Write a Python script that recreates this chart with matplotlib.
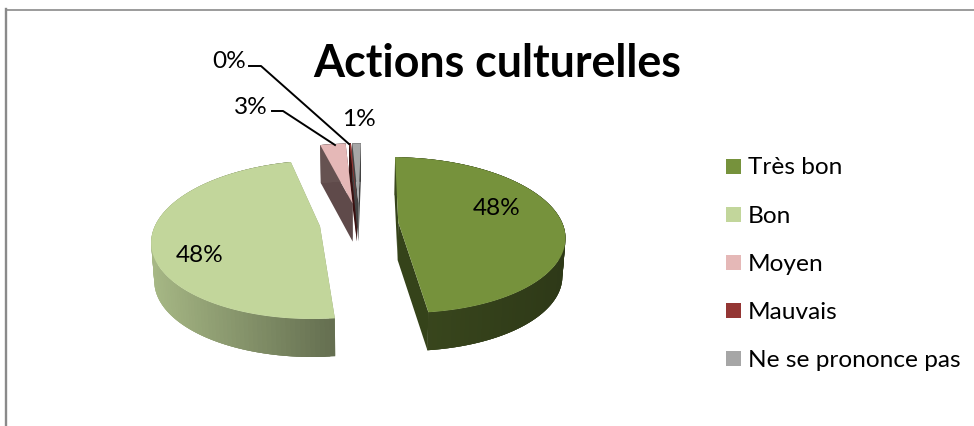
import numpy as np
import matplotlib
matplotlib.use("Agg")
import matplotlib.pyplot as plt
from matplotlib.colors import to_rgb
from matplotlib.patches import Rectangle

plt.rcParams["font.family"] = ["Lato", "DejaVu Sans"]

title = "Actions culturelles"
categories = ["Très bon", "Bon", "Moyen", "Mauvais", "Ne se prononce pas"]
values = [47.9, 47.9, 3.0, 0.2, 1.0]
colors = ["#76923C", "#C2D69B", "#E5B8B7", "#943634", "#A6A6A6"]

# how far each slice is pulled out, in pie radius units
explode = [0.24, 0.24, 0.27, 0.27, 0.27]
side_shade = [(0.50, 0.39), (0.86, 0.52), (0.45, 0.45), (0.35, 0.35), (0.40, 0.40)]
cut_colors = ["#35431A", "#8B9A70", "#5F4A4A", "#3A1010", "#444444"]

start_angle = 1.0
cx, cy = 359, 224
rx, ry = 164, 76
persp = 0.167
depth = 38
shrink = 0.985


def project(X, Y, lower=False):
    X, Y = np.asarray(X, float), np.asarray(Y, float)
    s = 1 / (1 + persp * Y)
    x = cx + rx * X * s
    y = cy - ry * Y * s
    if lower:
        x = cx + (x - cx) * shrink
        y = y + depth
    return x, y


def draw_slice(ax, a0, a1, color, pull, shade, cut):
    mid = np.radians((a0 + a1) / 2)
    ox, oy = pull * np.sin(mid), pull * np.cos(mid)
    th = np.radians(np.linspace(a0, a1, 121))
    X = np.concatenate([[ox], ox + np.sin(th)])
    Y = np.concatenate([[oy], oy + np.cos(th)])
    xt, yt = project(X, Y)
    xb, yb = project(X, Y, lower=True)
    base = np.array(to_rgb(color))

    # flat cut faces go in first, the top hides whatever should not show
    for i, j in [(0, 1), (0, -1)]:
        ax.fill([xt[i], xt[j], xb[j], xb[i]], [yt[i], yt[j], yb[j], yb[i]],
                color=cut, lw=0, zorder=2)

    # curved side: each quad overlaps the next two steps so no seams show
    lo, hi = xt[1:].min(), xt[1:].max()
    n = len(xt)
    for k in range(1, n - 1):
        e = min(k + 3, n - 1)
        t = (xt[k] - lo) / max(hi - lo, 1)
        c = base * (shade[0] + (shade[1] - shade[0]) * t)
        ax.fill(np.r_[xt[k:e + 1], xb[k:e + 1][::-1]],
                np.r_[yt[k:e + 1], yb[k:e + 1][::-1]],
                color=c, lw=0, zorder=2)
    ax.fill(xt, yt, color=color, lw=0, zorder=3)


fig = plt.figure(figsize=(9.74, 4.27), dpi=100)
ax = fig.add_axes([0, 0, 1, 1])
ax.set_xlim(0, 974)
ax.set_ylim(427, 0)
ax.axis("off")

# chart frame runs off the image on the right and at the bottom
ax.plot([6, 974], [10.5, 10.5], color="#8A8A8A", lw=1.2, zorder=1)
ax.plot([6, 6], [427, 10], color="#8A8A8A", lw=1.7, zorder=1)

angles = start_angle + np.cumsum([0] + values) / sum(values) * 360
order = [3, 2, 4, 1, 0]
for i in order:
    draw_slice(ax, angles[i], angles[i + 1], colors[i], explode[i], side_shade[i], cut_colors[i])

# value labels
label_pos = [(497, 209), (200, 255), (251, 108), (229, 62), (359, 120)]
for v, (lx, ly) in zip(values, label_pos):
    ax.text(lx, ly, f"{v:.0f}%", fontsize=17.6, ha="center", va="center", color="black", zorder=6)

# leader lines for the two small slices
ax.plot([249, 261, 349], [67, 67, 145], color="black", lw=1.4, zorder=5)
ax.plot([272, 283, 335], [112, 112, 146], color="black", lw=1.4, zorder=5)

ax.text(497, 64, title, fontsize=32.2, fontweight="bold", ha="center", va="center", zorder=6)

# legend
for i, (name, c) in enumerate(zip(categories, colors)):
    y = 167 + 48.2 * i
    ax.add_patch(Rectangle((726, y - 7.5), 15, 15, color=c, lw=0, zorder=4))
    ax.text(748, y + 1, name, fontsize=17.6, ha="left", va="center", color="black", zorder=6)

fig.savefig("out.png", dpi=100)
